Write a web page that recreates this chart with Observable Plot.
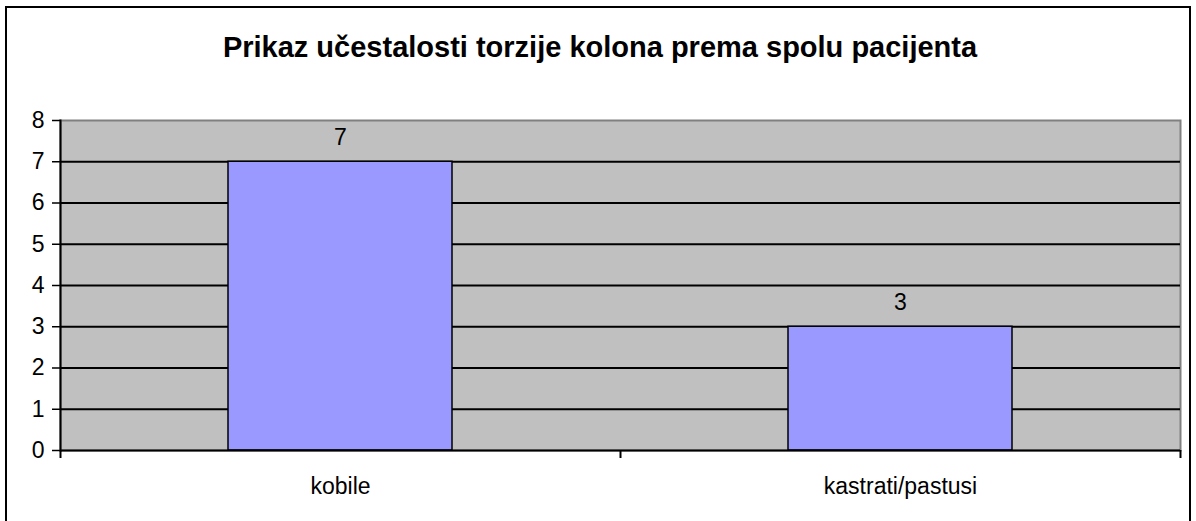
<!DOCTYPE html>
<html>
<head>
<meta charset="utf-8">
<script src="https://cdn.jsdelivr.net/npm/d3@7"></script>
<script src="https://cdn.jsdelivr.net/npm/@observablehq/plot@0.6"></script>
<style>
  html, body { margin: 0; padding: 0; background: #fff; overflow: hidden; }
  #wrap { position: relative; width: 1196px; height: 521px; font-family: "Liberation Sans", Arial, sans-serif; }
  #border { position: absolute; left: 5px; top: 6px; width: 1186px; height: 530px; border: 2px solid #000; box-sizing: border-box; }
  #title { position: absolute; left: 4px; top: 33px; width: 1192px; text-align: center; font-weight: bold; font-size: 29px; line-height: 29px; color: #000; }
  #chart { position: absolute; left: 0; top: 0; }
  #chart svg { background: transparent !important; }
</style>
</head>
<body>
<div id="wrap">
  <div id="border"></div>
  <div id="title">Prikaz učestalosti torzije kolona prema spolu pacijenta</div>
  <div id="chart"></div>
</div>
<script>
const categories = ["kobile", "kastrati/pastusi"];
const values = [7, 3];
const yTicks = [0, 1, 2, 3, 4, 5, 6, 7, 8];
const gridValues = [1, 2, 3, 4, 5, 6, 7];

const data = categories.map((c, i) => ({cat: c, value: values[i]}));

const W = 1196, H = 521, mL = 60, mR = 16, mT = 120, mB = 71;
const step = (W - mL - mR) / categories.length;

const chart = Plot.plot({
  width: W,
  height: H,
  marginLeft: mL,
  marginRight: mR,
  marginTop: mT,
  marginBottom: mB,
  style: {fontFamily: "'Liberation Sans', Arial, sans-serif", fontSize: "23px", color: "#000", background: "transparent"},
  x: {type: "band", domain: categories, paddingInner: 0.6, paddingOuter: 0.3, label: null},
  y: {domain: [0, 8], label: null},
  marks: [
    Plot.frame({fill: "#C0C0C0", stroke: "#808080", strokeWidth: 2}),
    Plot.ruleY(gridValues, {stroke: "#000", strokeWidth: 2}),
    Plot.barY(data, {x: "cat", y: "value", fill: "#9999FF", stroke: "#000", strokeWidth: 1.5}),
    Plot.text(data, {x: "cat", y: "value", text: d => String(d.value), dy: -24, fontSize: 23, fill: "#000"}),
    Plot.frame({anchor: "left", stroke: "#000", strokeWidth: 2}),
    Plot.ruleY([0], {stroke: "#000", strokeWidth: 2}),
    Plot.axisY({ticks: yTicks, tickSize: 8, tickPadding: 8, fontSize: 23, stroke: "#000", strokeWidth: 1.5, label: null, tickFormat: d => String(d)}),
    Plot.axisX({tickSize: 0, tickPadding: 27, fontSize: 23, label: null}),
    Plot.axisX({tickSize: 8, text: null, dx: -step / 2, stroke: "#000", strokeWidth: 2, label: null}),
    Plot.axisX([categories[categories.length - 1]], {tickSize: 8, text: null, dx: step / 2, stroke: "#000", strokeWidth: 2, label: null})
  ]
});
document.getElementById("chart").appendChild(chart);
</script>
</body>
</html>
